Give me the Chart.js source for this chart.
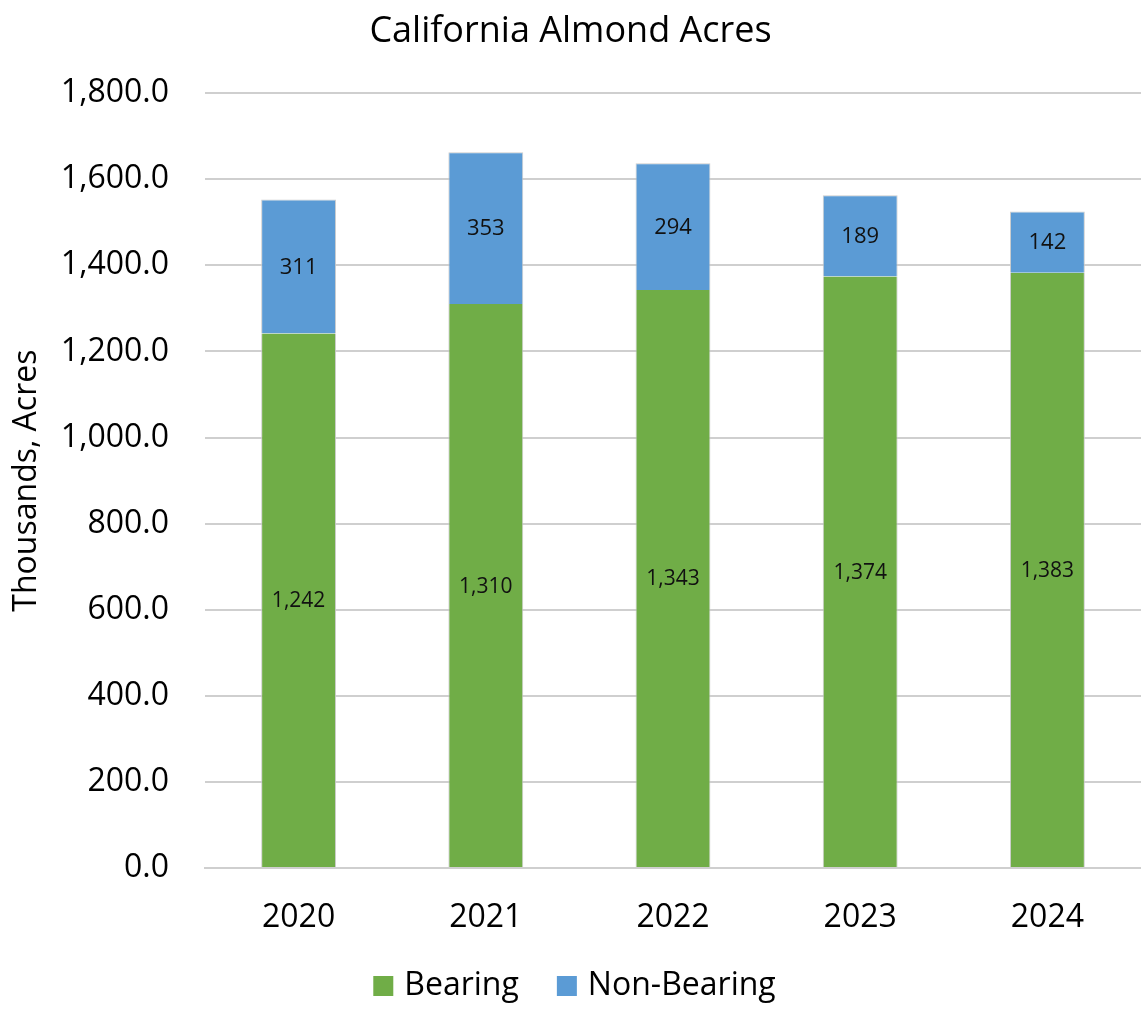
<!DOCTYPE html>
<html>
<head>
<meta charset="utf-8">
<script src="https://cdn.jsdelivr.net/npm/chart.js@4/dist/chart.umd.min.js"></script>
<style>
  html, body { margin: 0; padding: 0; background: #fff; }
  #wrap { width: 1141px; height: 1009px; position: relative; }
</style>
</head>
<body>
<div id="wrap"><canvas id="acresChart"></canvas></div>
<script>
// Chart data (thousand acres)
const years = ['2020', '2021', '2022', '2023', '2024'];
const bearing = [1242, 1310, 1343, 1374, 1383];
const nonBearing = [311, 353, 294, 189, 142];
const yTicks = [0, 200, 400, 600, 800, 1000, 1200, 1400, 1600, 1800];

const FONT = "'Open Sans', 'Noto Sans', sans-serif";
const GRID = '#cfcfcf';
const BAR_EDGE = 'rgba(200,200,200,0.9)';

// Draws the value in the middle of each bar segment
const segmentLabels = {
    id: 'segmentLabels',
    afterDatasetsDraw(chart) {
        const ctx = chart.ctx;
        ctx.save();
        ctx.fillStyle = '#111';
        ctx.textAlign = 'center';
        ctx.textBaseline = 'middle';
        chart.data.datasets.forEach((ds, i) => {
            ctx.font = (i === 0 ? '21px ' : '22px ') + FONT;
            chart.getDatasetMeta(i).data.forEach((bar, j) => {
                const p = bar.getProps(['x', 'y', 'base'], true);
                ctx.fillText(ds.data[j].toLocaleString('en-US'), p.x, (p.y + p.base) / 2 + 1);
            });
        });
        ctx.restore();
    }
};

// Legend drawn by hand so the box/text spacing matches the original
const bottomLegend = {
    id: 'bottomLegend',
    afterDraw(chart) {
        const ctx = chart.ctx;
        const box = 20, gap = 11, itemGap = 38, cy = 986;
        ctx.save();
        ctx.font = '32px ' + FONT;
        ctx.textBaseline = 'middle';
        ctx.textAlign = 'left';
        const items = chart.data.datasets.map(ds => ({
            text: ds.label,
            color: ds.backgroundColor,
            w: ctx.measureText(ds.label).width
        }));
        let total = 0;
        items.forEach((it, k) => { total += box + gap + it.w + (k ? itemGap : 0); });
        let x = chart.width / 2 + 4 - total / 2;
        items.forEach(it => {
            ctx.fillStyle = it.color;
            ctx.fillRect(x, cy - box / 2, box, box);
            ctx.fillStyle = '#000';
            ctx.fillText(it.text, x + box + gap, cy);
            x += box + gap + it.w + itemGap;
        });
        ctx.restore();
    }
};

const ctx = document.getElementById('acresChart').getContext('2d');
new Chart(ctx, {
    type: 'bar',
    data: {
        labels: years,
        datasets: [
            {
                label: 'Bearing',
                data: bearing,
                backgroundColor: '#70ad47',
                borderColor: BAR_EDGE,
                borderWidth: { left: 1, right: 1, top: 0, bottom: 0 },
                borderSkipped: false
            },
            {
                label: 'Non-Bearing',
                data: nonBearing,
                backgroundColor: '#5b9bd5',
                borderColor: BAR_EDGE,
                borderWidth: { left: 1, right: 1, top: 1, bottom: 0 },
                borderSkipped: false
            }
        ]
    },
    options: {
        responsive: true,
        maintainAspectRatio: false,
        animation: false,
        categoryPercentage: 1.0,
        barPercentage: 0.4,
        layout: { padding: { left: 0, right: 0, top: 0, bottom: 61 } },
        plugins: {
            title: {
                display: true,
                text: 'California Almond Acres',
                color: '#000',
                font: { family: FONT, size: 36, weight: 'normal' },
                padding: { top: 10, bottom: 40 }
            },
            legend: { display: false },
            tooltip: { enabled: false }
        },
        scales: {
            x: {
                stacked: true,
                grid: { display: false, drawTicks: false },
                border: { display: true, color: GRID, width: 2 },
                ticks: { color: '#000', font: { family: FONT, size: 32 }, padding: 31 },
                afterFit: (scale) => { scale.height = 80; }
            },
            y: {
                stacked: true,
                min: 0,
                max: 1800,
                afterBuildTicks: (scale) => { scale.ticks = yTicks.map(v => ({ value: v })); },
                grid: { color: GRID, lineWidth: 2, drawTicks: false },
                border: { display: false },
                ticks: {
                    color: '#000',
                    font: { family: FONT, size: 32 },
                    padding: 36,
                    callback: (v) => v.toLocaleString('en-US', { minimumFractionDigits: 1, maximumFractionDigits: 1 })
                },
                title: {
                    display: true,
                    text: 'Thousands, Acres',
                    color: '#000',
                    font: { family: FONT, size: 32 },
                    padding: { top: 8, bottom: 0 }
                },
                afterFit: (scale) => { scale.width = 205; }
            }
        }
    },
    plugins: [segmentLabels, bottomLegend]
});
</script>
</body>
</html>
